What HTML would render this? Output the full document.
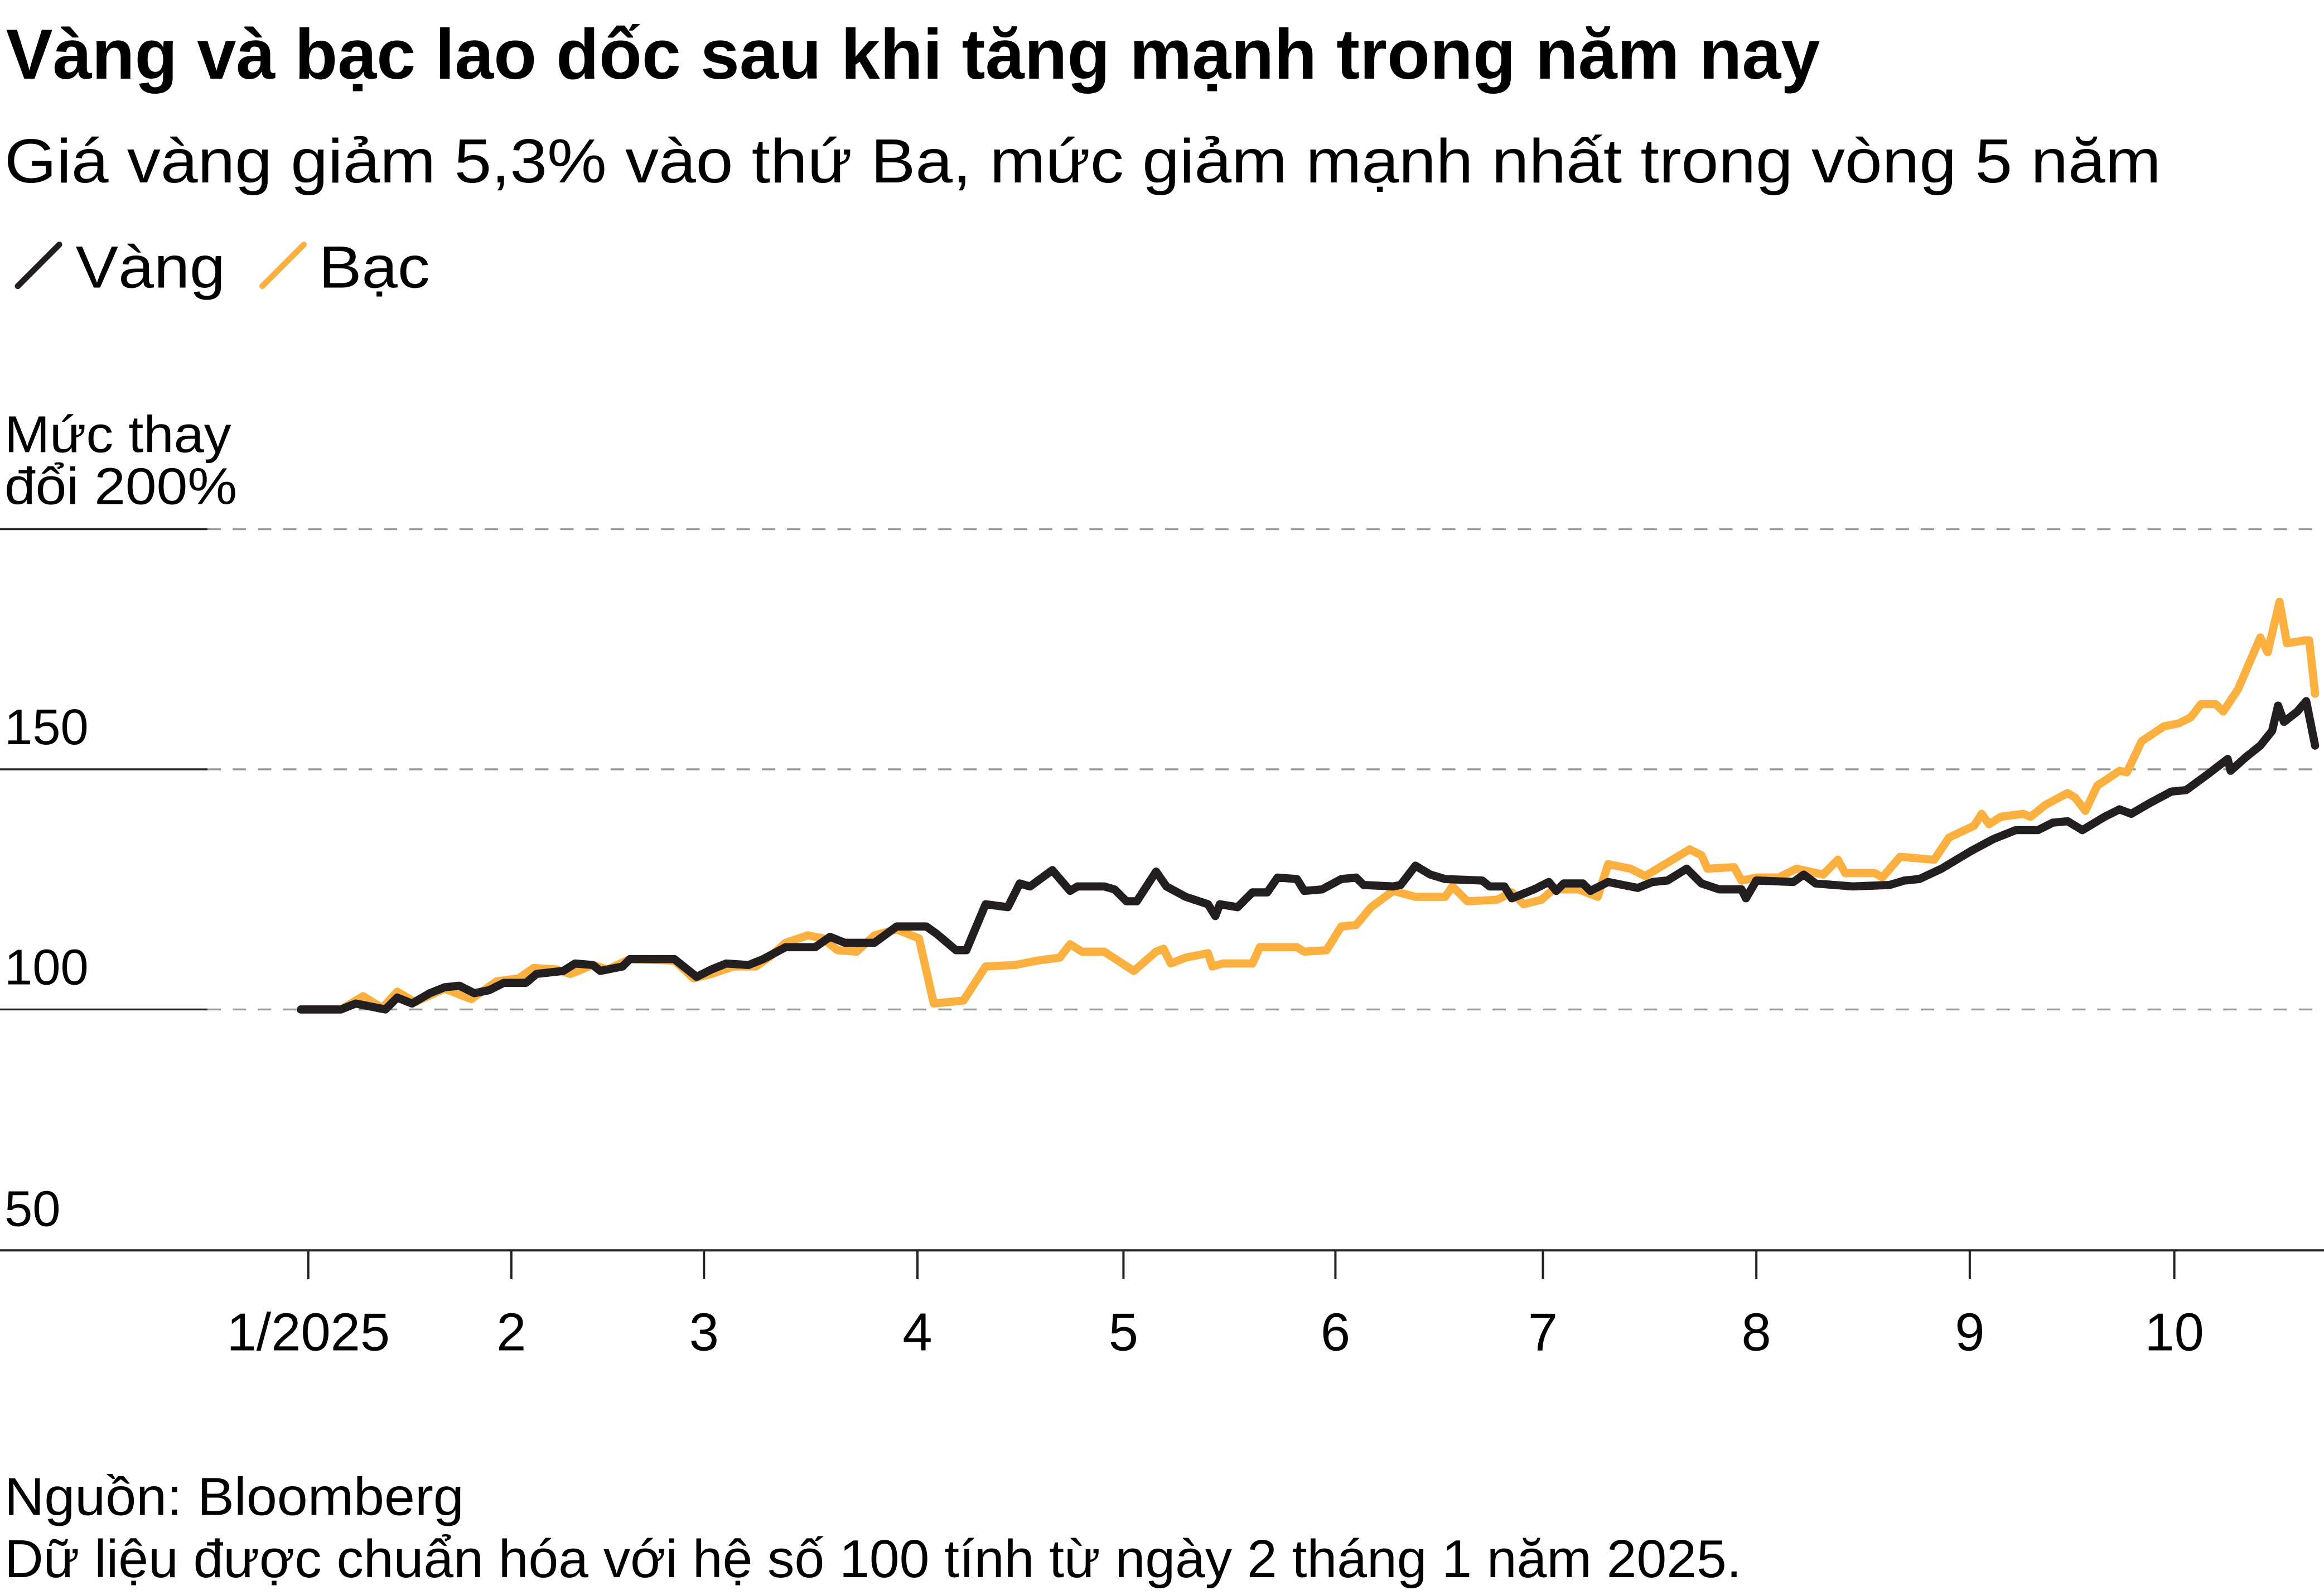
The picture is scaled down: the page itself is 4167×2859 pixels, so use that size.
<!DOCTYPE html>
<html><head><meta charset="utf-8"><style>html,body{margin:0;padding:0;background:#fff}svg{display:block}</style></head>
<body>
<svg width="4167" height="2859" viewBox="0 0 1568 1076" preserveAspectRatio="none" xmlns="http://www.w3.org/2000/svg" font-family="Liberation Sans, DejaVu Sans, sans-serif" fill="#000">
<rect width="1568" height="1076" fill="#fff"/>
<text x="4" y="53" font-size="48" font-weight="bold" textLength="1224" lengthAdjust="spacingAndGlyphs">Vàng và bạc lao dốc sau khi tăng mạnh trong năm nay</text>
<text x="3" y="123" font-size="42" textLength="1455" lengthAdjust="spacingAndGlyphs">Giá vàng giảm 5,3% vào thứ Ba, mức giảm mạnh nhất trong vòng 5 năm</text>
<line x1="12" y1="193" x2="40" y2="165" stroke="#231f20" stroke-width="4" stroke-linecap="round"/>
<text x="51" y="194" font-size="40" textLength="101" lengthAdjust="spacingAndGlyphs">Vàng</text>
<line x1="177" y1="193" x2="205" y2="165" stroke="#fbb040" stroke-width="4" stroke-linecap="round"/>
<text x="215" y="194" font-size="40" textLength="75" lengthAdjust="spacingAndGlyphs">Bạc</text>
<text x="3" y="305" font-size="35" textLength="153" lengthAdjust="spacingAndGlyphs">Mức thay</text>
<text x="3" y="340" font-size="35" textLength="157" lengthAdjust="spacingAndGlyphs">đổi 200%</text>
<text x="3" y="502" font-size="34">150</text>
<text x="3" y="664" font-size="34">100</text>
<text x="3" y="827" font-size="34">50</text>
<g stroke="#222" stroke-width="1.3">
<line x1="0" y1="357" x2="140" y2="357"/><line x1="0" y1="519" x2="140" y2="519"/><line x1="0" y1="681" x2="140" y2="681"/>
</g>
<g stroke="#999" stroke-width="1.3" stroke-dasharray="9,8">
<line x1="140" y1="357" x2="1568" y2="357"/><line x1="140" y1="519" x2="1568" y2="519"/><line x1="140" y1="681" x2="1568" y2="681"/>
</g>
<line x1="0" y1="843.5" x2="1568" y2="843.5" stroke="#222" stroke-width="1.5"/>
<g stroke="#222" stroke-width="1.5">
<line x1="208" y1="843" x2="208" y2="863"/><line x1="345" y1="843" x2="345" y2="863"/><line x1="475" y1="843" x2="475" y2="863"/><line x1="619" y1="843" x2="619" y2="863"/><line x1="758" y1="843" x2="758" y2="863"/><line x1="901" y1="843" x2="901" y2="863"/><line x1="1041" y1="843" x2="1041" y2="863"/><line x1="1185" y1="843" x2="1185" y2="863"/><line x1="1329" y1="843" x2="1329" y2="863"/><line x1="1467" y1="843" x2="1467" y2="863"/>
</g>
<g font-size="36" text-anchor="middle">
<text x="208" y="911">1/2025</text><text x="345" y="911">2</text><text x="475" y="911">3</text><text x="619" y="911">4</text><text x="758" y="911">5</text><text x="901" y="911">6</text><text x="1041" y="911">7</text><text x="1185" y="911">8</text><text x="1329" y="911">9</text><text x="1467" y="911">10</text>
</g>
<polyline fill="none" stroke="#fbb040" stroke-width="5.5" stroke-linejoin="round" stroke-linecap="round" points="203,681 230,681 245,672 258,680 268,669 280,676 300,667 318,674 335,662 350,660 360,653 375,654 385,657 400,651 410,654 425,647 455,648 468,660 480,657 495,652 510,652 520,645 530,636 545,631 555,633 565,641 578,642 590,631 605,627 620,633 630,677 650,675 665,652 685,651 700,648 715,646 722,637 730,642 745,642 765,655 780,642 785,640 790,650 800,646 815,643 818,652 825,650 845,650 850,639 875,639 880,642 895,641 905,625 915,624 925,612 940,601 955,605 975,605 980,598 990,608 1010,607 1020,602 1028,610 1040,607 1048,600 1065,600 1078,605 1085,583 1100,586 1110,591 1140,573 1148,577 1152,586 1170,585 1175,594 1185,592 1200,592 1212,586 1230,590 1240,580 1245,589 1265,589 1270,592 1282,578 1305,580 1315,565 1332,557 1337,549 1342,556 1350,551 1365,549 1370,551 1380,543 1395,535 1400,538 1407,547 1415,530 1430,520 1435,521 1445,500 1460,490 1470,488 1478,484 1485,475 1495,475 1500,480 1510,465 1525,430 1530,440 1538,406 1543,434 1555,432 1558,432 1562,468"/>
<polyline fill="none" stroke="#231f20" stroke-width="5.5" stroke-linejoin="round" stroke-linecap="round" points="203,681 230,681 240,677 260,681 268,673 278,677 290,670 300,666 310,665 320,670 330,668 340,663 355,663 362,657 380,655 388,650 400,651 405,655 420,652 425,647 455,647 470,659 480,654 490,650 505,651 515,647 530,639 550,639 560,632 570,636 590,636 605,625 625,625 632,630 645,641 652,641 665,610 680,612 688,596 695,598 710,587 722,601 727,598 745,598 752,600 760,608 767,608 780,588 787,598 800,605 815,610 820,618 823,610 835,612 845,602 855,602 862,592 875,593 880,601 892,600 905,593 915,592 920,597 940,598 945,597 955,584 965,590 975,593 1000,594 1005,598 1015,598 1020,606 1035,600 1045,595 1050,601 1055,596 1068,596 1073,601 1085,595 1105,599 1115,595 1125,594 1138,586 1148,596 1160,600 1175,600 1178,606 1185,594 1210,595 1217,590 1225,596 1250,598 1275,597 1285,594 1295,593 1310,586 1330,574 1345,566 1360,560 1375,560 1385,555 1395,554 1405,560 1420,551 1430,546 1438,549 1450,542 1465,534 1475,533 1490,522 1503,512 1505,520 1515,511 1525,503 1533,493 1537,476 1541,487 1550,480 1556,473 1562,503"/>
<text x="3" y="1022" font-size="36" textLength="310" lengthAdjust="spacingAndGlyphs">Nguồn: Bloomberg</text>
<text x="3" y="1064" font-size="36" textLength="1172" lengthAdjust="spacingAndGlyphs">Dữ liệu được chuẩn hóa với hệ số 100 tính từ ngày 2 tháng 1 năm 2025.</text>
</svg>
</body></html>
